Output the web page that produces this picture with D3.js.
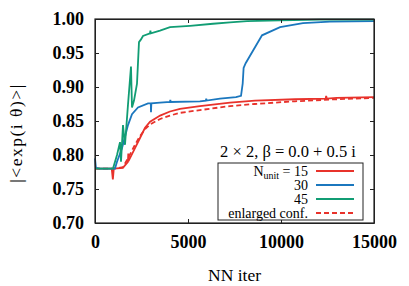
<!DOCTYPE html>
<meta charset="utf-8">
<style>
body { margin: 0; background: #fff; }
.axis text { font: bold 18px "Liberation Serif", serif; fill: #000; }
.lab { font: 17.5px "Liberation Serif", serif; fill: #000; }
.leg { font: 14px "Liberation Serif", serif; fill: #000; }
</style>
<svg width="409" height="286"></svg>
<script src="https://cdn.jsdelivr.net/npm/d3@7"></script>
<script>

// [NN iter, |<exp(i theta)>|]
var n15 = [[0,0.780],[900,0.780],[960,0.764],[1010,0.780],[1500,0.781],[1770,0.790],[1790,0.802],[1800,0.791],
  [2150,0.810],[2420,0.825],[2690,0.840],[2960,0.849],[3500,0.858],[4030,0.864],[4570,0.868],
  [5640,0.872],[7260,0.877],[8600,0.880],[10750,0.882],[12400,0.883],[12430,0.887],[12460,0.883],
  [13000,0.884],[15000,0.885]];
var enlarged = [[0,0.780],[970,0.780],[1500,0.782],[1770,0.795],[2150,0.815],[2420,0.828],[2690,0.838],
  [2960,0.845],[3500,0.853],[4030,0.858],[4570,0.862],[5640,0.866],[7260,0.872],[8600,0.875],
  [10750,0.879],[13000,0.882],[15000,0.884]];
var n30 = [[0,0.795],[50,0.781],[270,0.780],[1075,0.780],[1183,0.790],[1451,0.810],[1774,0.844],
  [1989,0.860],[2311,0.870],[2850,0.876],[3000,0.876],[3010,0.863],[3030,0.876],[3494,0.877],
  [4030,0.878],[4050,0.881],[4070,0.878],[5640,0.879],[5960,0.880],[5980,0.883],[6000,0.880],
  [6720,0.883],[7580,0.885],[7850,0.887],[7940,0.905],[7990,0.928],
  [8100,0.935],[8980,0.976],[9950,0.988],[11180,0.994],[12630,0.996],[15000,0.997]];
var n45 = [[0,0.780],[968,0.780],[1183,0.800],[1344,0.819],[1398,0.790],[1505,0.844],[1613,0.815],
  [1774,0.874],[1935,0.930],[1989,0.870],[2097,0.880],[2258,0.905],[2365,0.966],[2473,0.970],
  [2580,0.975],[2957,0.979],[2980,0.983],[3000,0.979],[3494,0.983],[4032,0.988],[5107,0.990],
  [6344,0.993],[7258,0.995],[8171,0.997],[9946,0.998],[12096,0.999],[15000,0.999]];

var xTicks = [0, 5000, 10000, 15000];
var yTicks = [0.70, 0.75, 0.80, 0.85, 0.90, 0.95, 1.00];

var series = [
  {name: "15", data: n15, color: "#e8322b", dash: null},
  {name: "30", data: n30, color: "#1b77be", dash: null},
  {name: "45", data: n45, color: "#119d74", dash: null},
  {name: "enlarged conf.", data: enlarged, color: "#e8322b", dash: "5,3"}
];

var svg = d3.select("svg"),
    margin = {top: 19, right: 35, bottom: 63, left: 95},
    width = 409 - margin.left - margin.right,
    height = 286 - margin.top - margin.bottom,
    g = svg.append("g").attr("transform", "translate(" + margin.left + "," + margin.top + ")");

var x = d3.scaleLinear().domain([0, 15000]).range([0, width]);
var y = d3.scaleLinear().domain([0.70, 1.00]).range([height, 0]);

var line = d3.line()
    .x(function(d) { return x(d[0]); })
    .y(function(d) { return y(d[1]); });

// data lines (drawn back to front: dashed, red, blue, green)
[series[3], series[0], series[1], series[2]].forEach(function(s) {
  g.append("path")
      .datum(s.data)
      .attr("fill", "none")
      .attr("stroke", s.color)
      .attr("stroke-width", 1.8)
      .attr("stroke-dasharray", s.dash)
      .attr("d", line);
});

// axes with inward ticks
g.append("g").attr("class", "axis")
    .attr("transform", "translate(0," + height + ")")
    .call(d3.axisBottom(x).tickValues(xTicks).tickFormat(d3.format("d")).tickSizeInner(-4).tickSizeOuter(0).tickPadding(12));
g.append("g").attr("class", "axis")
    .call(d3.axisLeft(y).tickValues(yTicks).tickFormat(d3.format(".2f")).tickSizeInner(-4).tickSizeOuter(0).tickPadding(11));
g.append("g").attr("class", "axis")
    .call(d3.axisTop(x).tickValues(xTicks).tickFormat("").tickSizeInner(-4).tickSizeOuter(0));
g.append("g").attr("class", "axis")
    .attr("transform", "translate(" + width + ",0)")
    .call(d3.axisRight(y).tickValues(yTicks).tickFormat("").tickSizeInner(-4).tickSizeOuter(0));
g.selectAll(".axis path, .axis line").attr("stroke", "#222").attr("stroke-width", 1);

g.append("rect")
    .attr("width", width).attr("height", height)
    .attr("fill", "none").attr("stroke", "#222").attr("stroke-width", 1.2);

// axis labels
svg.append("text").attr("class", "lab")
    .attr("x", margin.left + width / 2).attr("y", 281)
    .attr("text-anchor", "middle").text("NN iter");
svg.append("text").attr("class", "lab")
    .attr("transform", "translate(22," + (margin.top + height / 2 + 12) + ") rotate(-90)")
    .attr("text-anchor", "middle").style("letter-spacing", "1.5px")
    .text("|<exp(i θ)>|");

// legend
var lg = svg.append("g");
lg.append("text").attr("class", "lab").style("font-size", "16.5px")
    .attr("x", 288).attr("y", 157).attr("text-anchor", "middle")
    .text("2 × 2, β = 0.0 + 0.5 i");
lg.append("rect").attr("x", 218).attr("y", 163).attr("width", 145).attr("height", 57)
    .attr("fill", "#fff").attr("stroke", "#222").attr("stroke-width", 1);

var rows = lg.selectAll(".row").data(series).enter().append("g")
    .attr("transform", function(d, i) { return "translate(0," + (171 + i * 14) + ")"; });
rows.append("line")
    .attr("x1", 316).attr("x2", 354)
    .attr("stroke", function(d) { return d.color; })
    .attr("stroke-width", 1.8)
    .attr("stroke-dasharray", function(d) { return d.dash; });
rows.append("text").attr("class", "leg")
    .attr("x", 308).attr("y", 4.5).attr("text-anchor", "end")
    .each(function(d, i) {
      var t = d3.select(this);
      if (i === 0) {
        t.append("tspan").text("N");
        t.append("tspan").attr("dy", 3).style("font-size", "10px").text("unit");
        t.append("tspan").attr("dy", -3).text(" = " + d.name);
      } else {
        t.text(d.name);
      }
    });

</script>
